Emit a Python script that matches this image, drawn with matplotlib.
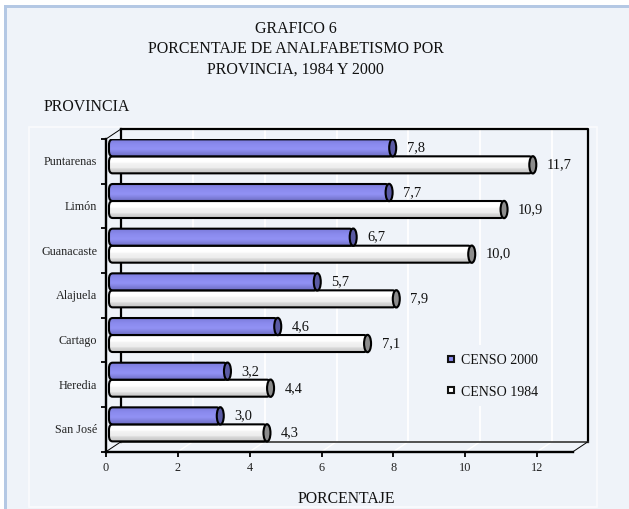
import matplotlib
matplotlib.use("Agg")
import matplotlib.pyplot as plt
import numpy as np
from matplotlib.patches import Rectangle, FancyBboxPatch, Ellipse
from matplotlib.lines import Line2D
from matplotlib.colors import LinearSegmentedColormap

provincias = ["San José", "Heredia", "Cartago", "Alajuela", "Guanacaste", "Limón", "Puntarenas"]
censo_2000 = [3.0, 3.2, 4.6, 5.7, 6.7, 7.7, 7.8]
censo_1984 = [4.3, 4.4, 7.1, 7.9, 10.0, 10.9, 11.7]
x_ticks = [0, 2, 4, 6, 8, 10, 12]
titulo = ["GRAFICO 6", "PORCENTAJE DE ANALFABETISMO POR", "PROVINCIA, 1984 Y 2000"]

plt.rcParams['font.family'] = ['Liberation Serif', 'DejaVu Serif']
W, H = 629, 510
BG = '#EFF3F9'
fig = plt.figure(figsize=(W/100, H/100), dpi=100, facecolor='white')

def frect(x0, y0, x1, y1, **kw):
    fig.patches.append(Rectangle((x0/W, 1-y1/H), (x1-x0)/W, (y1-y0)/H, transform=fig.transFigure, **kw))

frect(4, 6, W, H, facecolor=BG, edgecolor='none', zorder=-5)
frect(4, 6, W, 8.5, facecolor='#B4C8E4', edgecolor='none', zorder=-4)
frect(4, 6, 6.5, H, facecolor='#B4C8E4', edgecolor='none', zorder=-4)
frect(28.5, 127.5, 597, 507.5, facecolor='none', edgecolor='#FAFBFD', linewidth=1.2, zorder=-3)

for t, y in zip(titulo, [29, 49, 70]):
    fig.text(295.5/W, 1-y/H, t, ha='center', va='center', fontsize=11.5, color='#111111')
fig.text(44/W, 1-107/H, "PROVINCIA", ha='left', va='center', fontsize=11.4, color='#111111')
fig.text(346/W, 1-499/H, "PORCENTAJE", ha='center', va='center', fontsize=11.3, color='#111111')

L, R, T, B = 106, 573, 140, 452.7
ax = fig.add_axes([L/W, 1-B/H, (R-L)/W, (B-T)/H], facecolor='none')
xmax, ymax = 13, 7
ax.set_xlim(0, xmax)
ax.set_ylim(0, ymax)
ux, uy = (R-L)/xmax, (B-T)/ymax
dx, dy = 15/ux, 10/uy   # depth of the 3-D box

# back wall gridlines and floor lines
for v in x_ticks[1:]:
    ax.plot([v+dx]*2, [dy, ymax+dy], color='white', lw=1.3, clip_on=False, zorder=1)
    ax.plot([v, v+dx], [0, dy], color='white', lw=1, clip_on=False, zorder=1)
# back frame
ax.plot([dx, dx], [dy, ymax+dy], color='black', lw=1.6, clip_on=False, zorder=2)
ax.plot([dx, xmax+dx, xmax+dx], [ymax+dy, ymax+dy, dy], color='black', lw=1.6, clip_on=False, zorder=2)
ax.plot([dx, xmax+dx], [dy, dy], color='#444444', lw=1.3, clip_on=False, zorder=2)
ax.plot([0, dx], [ymax, ymax+dy], color='black', lw=0.7, clip_on=False, zorder=2)
ax.plot([0, dx], [0, dy], color='black', lw=0.7, clip_on=False, zorder=2)
ax.plot([xmax, xmax+dx], [0, dy], color='black', lw=0.7, clip_on=False, zorder=2)

cm_blue = LinearSegmentedColormap.from_list('b', [(0, '#7C7CDC'), (0.3, '#8A8AEE'), (0.6, '#9292F4'), (1, '#6E6EC4')])
cm_white = LinearSegmentedColormap.from_list('w', [(0, '#FFFFFF'), (0.35, '#FFFFFF'), (0.45, '#F2F2F2'), (0.7, '#EDEDED'), (0.75, '#DADADA'), (1, '#C4C4C4')])
grad = np.linspace(0, 1, 64).reshape(-1, 1)

barh = 17/uy
shift = 5/uy
start = 3/ux
depth = 6.5/ux
capw = 7/ux

def bar3d(val, yc, cmap, capc, z):
    x0, x1 = start, val + depth
    y0, y1 = yc-barh/2, yc+barh/2
    im = ax.imshow(grad, cmap=cmap, extent=(x0, x1, y0, y1), aspect='auto', origin='upper', zorder=z, interpolation='bilinear')
    box = FancyBboxPatch((x0, y0), x1-x0, y1-y0, boxstyle="round,pad=0,rounding_size=0.1",
                         mutation_aspect=uy/ux, facecolor='none', edgecolor='black', lw=1.5, zorder=z+0.1)
    ax.add_patch(box)
    im.set_clip_path(box)
    ax.add_patch(Ellipse((x1, yc), capw, barh*1.02, facecolor=capc, edgecolor='black', lw=1.5, zorder=z+0.2))
    ax.annotate(f"{val:.1f}".replace('.', ','), xy=(x1, yc), xytext=(14, 1), textcoords='offset pixels',
                ha='left', va='center', fontsize=10.4, color='#111111', zorder=z+0.3,
                xycoords='data')

for i in range(len(provincias)):
    yc = i + 0.5 + shift
    bar3d(censo_1984[i], yc - barh/2, cm_white, '#8C8C8C', 10 + 2*(len(provincias)-i))
    bar3d(censo_2000[i], yc + barh/2, cm_blue, '#5A5AA4', 11 + 2*(len(provincias)-i))

ax.set_xlim(0, xmax)
ax.set_ylim(0, ymax)

for s in ['top', 'right']:
    ax.spines[s].set_visible(False)
for s in ['left', 'bottom']:
    ax.spines[s].set_linewidth(1.7)
    ax.spines[s].set_zorder(40)
ax.set_xticks(x_ticks)
ax.set_xticklabels([str(v) for v in x_ticks], fontsize=8.8, color='#222222')
ax.tick_params(axis='x', length=3.5, width=1.3, pad=3)
ax.set_yticks(range(0, ymax+1))
ax.set_yticklabels([])
ax.tick_params(axis='y', length=3.8, width=1.3)
for i, p in enumerate(provincias):
    ax.annotate(p, xy=(0, i+0.5), xycoords='data', xytext=(-9, 0), textcoords='offset pixels',
                ha='right', va='center', fontsize=8.7, color='#222222')

h = [Line2D([], [], ls='none', marker='s', ms=4.6, mfc=c, mec='#111111', mew=1.5)
     for c in ['#8A8AEE', '#FFFFFF']]
leg = ax.legend(h, ['CENSO 2000', 'CENSO 1984'], loc='center', bbox_to_anchor=(490/W, 1-376.5/H),
                bbox_transform=fig.transFigure, frameon=True, facecolor=BG, edgecolor='none', framealpha=1,
                fontsize=10, labelspacing=1.3, handletextpad=0.05, handlelength=1.3, borderpad=0.6,
                labelcolor='#111111', fancybox=False)
leg.set_zorder(5)

fig.savefig('out.png', dpi=100, facecolor=fig.get_facecolor())
